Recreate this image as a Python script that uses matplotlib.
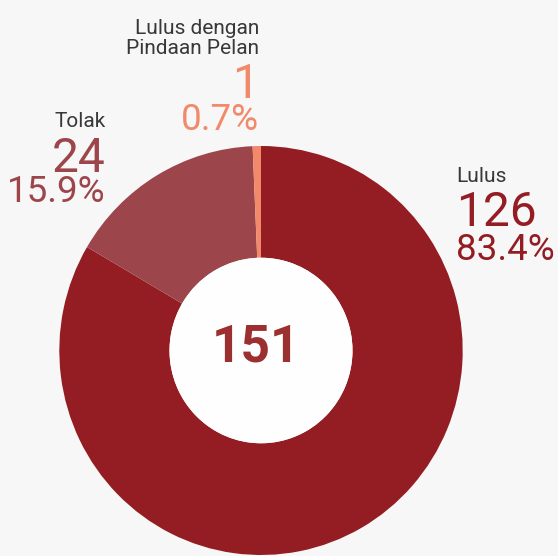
import matplotlib.pyplot as plt
from matplotlib.patches import Ellipse

plt.rcParams['font.family'] = ['Roboto', 'DejaVu Sans']

# Data
labels = ['Lulus', 'Tolak', 'Lulus dengan\nPindaan Pelan']
counts = [126, 24, 1]
colors = ['#931d22', '#9c464b', '#f2896a']
total = sum(counts)

W, H = 558, 556
fig = plt.figure(figsize=(W / 100, H / 100), dpi=100)
fig.patch.set_facecolor('#f7f7f7')

# Donut axes, placed in pixel units (slightly taller than wide)
cx, cy, rx, ry = 261, 350.5, 201.7, 204.5
ax = fig.add_axes([(cx - rx) / W, 1 - (cy + ry) / H, 2 * rx / W, 2 * ry / H])
hole = 91.5 / rx
ax.pie(counts, colors=colors, startangle=90, counterclock=False, radius=1,
       wedgeprops=dict(width=1 - hole, linewidth=0))
ax.add_patch(Ellipse((0, 0), 2 * hole, 2 * hole, facecolor='#fefefe',
                     edgecolor='none'))
ax.set_aspect('auto')
ax.set_xlim(-1, 1)
ax.set_ylim(-1, 1)
ax.axis('off')


def px(x, y):
    return x / W, 1 - y / H


fig.text(*px(256, 361), str(total), ha='center', va='baseline', fontsize=37,
         fontweight='bold', color='#9c2f2f')

# Labels: x anchor, alignment, baselines of name / count / percent
label_pos = [
    (456, 'left', [182, 226, 260]),
    (106, 'right', [127, 171.5, 201.5]),
    (259, 'right', [54, 97.5, 130]),
]

for name, n, col, (x, ha, ys) in zip(labels, counts, colors, label_pos):
    pct = n / total * 100
    fig.text(*px(x, ys[0]), name, ha=ha, va='baseline', fontsize=15,
             color='#383838', linespacing=1.1, multialignment='right')
    fig.text(*px(x, ys[1]), str(n), ha=ha, va='baseline', fontsize=34.5,
             color=col)
    fig.text(*px(x, ys[2]), f'{pct:.1f}%', ha=ha, va='baseline', fontsize=26.5,
             color=col)

fig.savefig('out.png', dpi=100, facecolor=fig.get_facecolor())
